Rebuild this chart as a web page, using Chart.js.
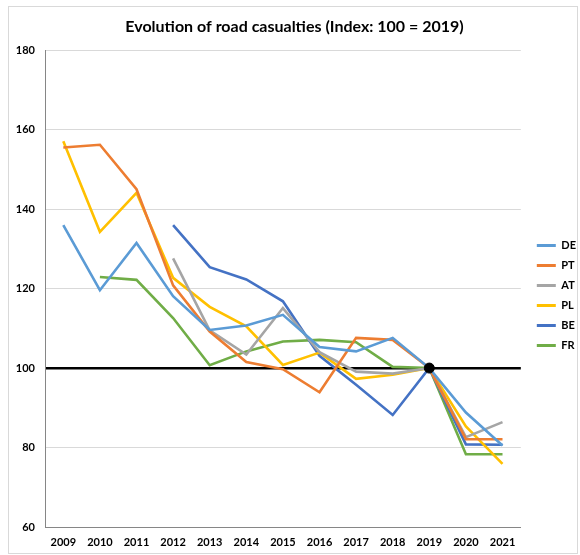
<!DOCTYPE html>
<html lang="en">
<head>
    <meta charset="UTF-8">
    <title>Road casualties</title>
    <style>
        html, body { margin: 0; padding: 0; background: #fff; }
        #wrap { position: relative; width: 580px; height: 555px; }
        #frame { position: absolute; left: 8px; top: 6px; width: 568px; height: 546px; border: 1px solid #d9d9d9; pointer-events: none; }
    </style>
</head>
<body>
<div id="wrap">
    <canvas id="myChart" width="580" height="555"></canvas>
    <div id="frame"></div>
</div>
<script src="https://cdn.jsdelivr.net/npm/chart.js"></script>
<script>
    const years = ['2009', '2010', '2011', '2012', '2013', '2014', '2015', '2016', '2017', '2018', '2019', '2020', '2021'];
    const yTicks = [60, 80, 100, 120, 140, 160, 180];

    const DE = [136, 119.6, 131.5, 118.1, 109.6, 110.7, 113.4, 105.3, 104.2, 107.6, 100, 88.8, 80.5];
    const PT = [155.5, 156.2, 145, 120.8, 109.2, 101.5, 99.7, 93.9, 107.6, 107.1, 100, 82.1, 82.1];
    const AT = [null, null, null, 127.6, 109.5, 103.4, 115.1, 104, 99.1, 98.6, 100, 82.6, 86.4];
    const PL = [157.1, 134.3, 144.1, 122.7, 115.4, 110.5, 100.8, 103.9, 97.3, 98.3, 100, 85.3, 75.9];
    const BE = [null, null, null, 136, 125.4, 122.3, 116.8, 103.1, 95.8, 88.2, 100, 80.8, 80.7];
    const FR = [null, 122.9, 122.2, 112.6, 100.7, 104.2, 106.7, 107.1, 106.5, 100.3, 100, 78.3, 78.3];
    const baseYear = [null, null, null, null, null, null, null, null, null, null, 100, null, null];

    const font = "Lato, 'Liberation Sans', sans-serif";

    function series(label, data, color) {
        return {
            label: label,
            data: data,
            borderColor: color,
            backgroundColor: color,
            borderWidth: 2.6,
            pointRadius: 0,
            tension: 0
        };
    }

    // nudge the legend box to where the original sits (right of plot, a bit lower)
    const legendNudge = {
        id: 'legendNudge',
        afterLayout(chart) {
            const lg = chart.legend;
            lg.left += 7; lg.right += 7;
            lg.top += 17; lg.bottom += 17;
        }
    };

    const ctx = document.getElementById('myChart');
    new Chart(ctx, {
        type: 'line',
        data: {
            labels: years,
            datasets: [
                series('DE', DE, '#5B9BD5'),
                series('PT', PT, '#ED7D31'),
                series('AT', AT, '#A5A5A5'),
                series('PL', PL, '#FFC000'),
                series('BE', BE, '#4472C4'),
                series('FR', FR, '#70AD47'),
                {
                    label: 'base',
                    data: baseYear,
                    borderColor: '#000',
                    backgroundColor: '#000',
                    pointRadius: 5,
                    showLine: false,
                    order: -1
                }
            ]
        },
        plugins: [legendNudge],
        options: {
            responsive: false,
            animation: false,
            layout: { padding: { left: 10, right: 1, top: 2, bottom: 0 } },
            plugins: {
                title: {
                    display: true,
                    text: 'Evolution of road casualties (Index: 100 = 2019)',
                    color: '#000',
                    font: { family: font, size: 16, weight: 'bold' },
                    padding: { top: 15, bottom: 14 }
                },
                legend: {
                    position: 'right',
                    labels: {
                        color: '#000',
                        font: { family: font, size: 11, weight: 'bold' },
                        boxWidth: 19,
                        boxHeight: 3,
                        padding: 9,
                        filter: item => item.text !== 'base',
                        generateLabels: chart => Chart.defaults.plugins.legend.labels.generateLabels(chart)
                            .map(l => Object.assign(l, { lineWidth: 0, fillStyle: l.strokeStyle }))
                    }
                },
                tooltip: { enabled: false }
            },
            scales: {
                x: {
                    offset: true,
                    grid: { display: false, drawTicks: false },
                    border: { color: '#868686', width: 1 },
                    ticks: {
                        color: '#000',
                        padding: 9,
                        maxRotation: 0,
                        font: { family: font, size: 11, weight: 'bold' }
                    },
                    afterFit: s => { s.height = 28; }
                },
                y: {
                    min: 60,
                    max: 180,
                    afterBuildTicks: s => { s.ticks = yTicks.map(v => ({ value: v })); },
                    grid: {
                        drawTicks: false,
                        color: c => c.tick && c.tick.value === 100 ? '#000' : '#d9d9d9',
                        lineWidth: c => c.tick && c.tick.value === 100 ? 2.6 : 1
                    },
                    border: { color: '#868686', width: 1 },
                    ticks: {
                        color: '#000',
                        padding: 10,
                        font: { family: font, size: 11, weight: 'bold' }
                    },
                    afterFit: s => { s.width = 35; }
                }
            }
        }
    });
</script>
</body>
</html>
